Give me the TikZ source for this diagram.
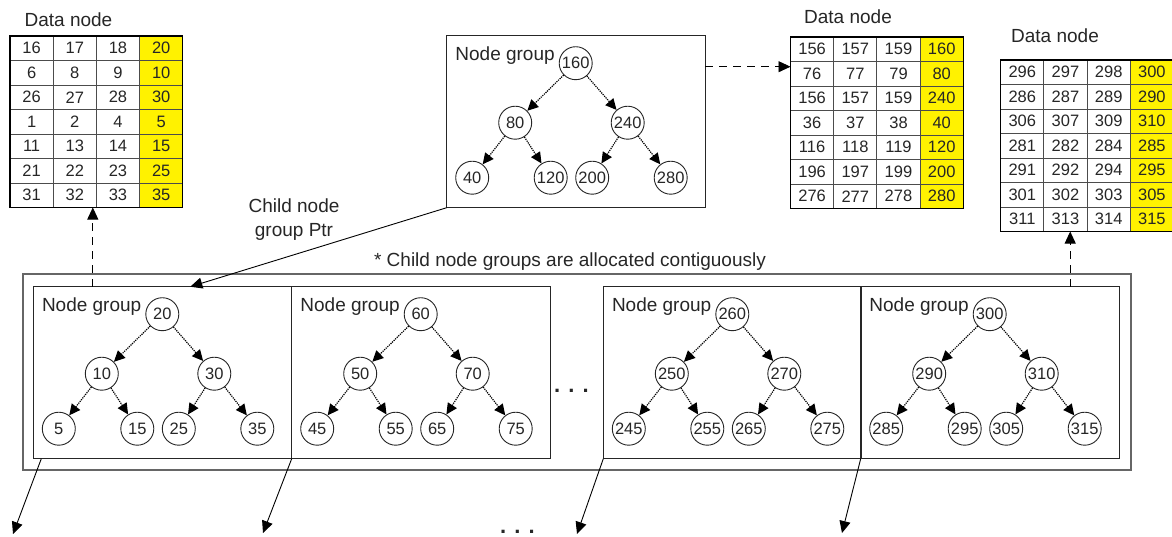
\documentclass[tikz,border=0pt]{standalone}
\usepackage{fontspec}
\setmainfont{Liberation Sans}
\usetikzlibrary{arrows.meta,calc}

\tikzset{
  lbl/.style={font=\fontsize{19}{24}\selectfont, text=black!85, inner sep=0pt},
  num/.style={font=\fontsize{16.5}{18}\selectfont, text=black!85},
  cell/.style={num, draw=black!70, line width=0.9pt, minimum width=43.2pt,
    minimum height=24.5pt, inner sep=0pt, outer sep=0pt},
  key/.style={cell, fill=yellow},
  tnode/.style={num, circle, draw=black!85, line width=0.9pt, minimum size=33pt,
    inner sep=0pt, fill=white},
  groupbox/.style={draw=black!85, line width=1pt, minimum width=258.4pt,
    minimum height=172pt, inner sep=0pt, outer sep=0pt},
  outerbox/.style={draw=black!60, line width=1.8pt, inner sep=0pt, outer sep=0pt,
    minimum width=1108pt, minimum height=196pt},
  treeedge/.style={densely dotted, line width=1.2pt, -{Triangle[length=11pt,width=10.5pt]}},
  ptr/.style={line width=0.9pt, -{Triangle[length=12pt,width=11pt]}},
  dashptr/.style={ptr, dash pattern=on 8pt off 6pt},
  dots/.style={font=\bfseries\fontsize{22}{24}\selectfont, text=black!85, inner sep=0pt, anchor=base},
}

% data node table: name, left x, top y, rows (four keys each, last one highlighted)
\newcommand\datatable[4]{%
  \foreach \a/\b/\c/\d [count=\r] in {#4} {
    \node[cell] (#1-\r-1) at ({#2+21.6},{#3+(\r-0.5)*24.5}) {\a};
    \node[cell] (#1-\r-2) at ({#2+64.8},{#3+(\r-0.5)*24.5}) {\b};
    \node[cell] (#1-\r-3) at ({#2+108},{#3+(\r-0.5)*24.5}) {\c};
    \node[key]  (#1-\r-4) at ({#2+151.2},{#3+(\r-0.5)*24.5}) {\d};
  }
  \draw[line width=1.2pt] (#1-1-1.north west) rectangle (#1-7-4.south east);
}

% node group: name, top-left corner, seven keys of the binary tree (level order)
\newcommand\nodegroup[9]{%
  \node[groupbox, anchor=north west] (#1) at (#2) {};
  \node[lbl, anchor=west] (#1-title) at ([shift={(8.5,20)}]#1.north west) {Node group};
  \node[tnode] (#1-a) at ([shift={(129,27.5)}]#1.north west) {#3};
  \node[tnode] (#1-b) at ([shift={(68.5,87)}]#1.north west) {#4};
  \node[tnode] (#1-c) at ([shift={(181,87)}]#1.north west) {#5};
  \node[tnode] (#1-d) at ([shift={(25.5,142)}]#1.north west) {#6};
  \node[tnode] (#1-e) at ([shift={(104,142)}]#1.north west) {#7};
  \node[tnode] (#1-f) at ([shift={(145.5,142)}]#1.north west) {#8};
  \node[tnode] (#1-g) at ([shift={(224,142)}]#1.north west) {#9};
  \draw[treeedge] (#1-a) -- (#1-b);
  \draw[treeedge] (#1-a) -- (#1-c);
  \draw[treeedge] (#1-b) -- (#1-d);
  \draw[treeedge] (#1-b) -- (#1-e);
  \draw[treeedge] (#1-c) -- (#1-f);
  \draw[treeedge] (#1-c) -- (#1-g);
}

\begin{document}
\begin{tikzpicture}[x=1pt, y=-1pt]
\useasboundingbox (0,0) rectangle (1172,536);

% data nodes
\node[lbl] (DL-title) at (68.5,20) {Data node};
\datatable{DL}{10}{36}{16/17/18/20, 6/8/9/10, 26/27/28/30, 1/2/4/5, 11/13/14/15, 21/22/23/25, 31/32/33/35}

\node[lbl] (DM-title) at (848,16.5) {Data node};
\datatable{DM}{790.5}{37}{156/157/159/160, 76/77/79/80, 156/157/159/240, 36/37/38/40, 116/118/119/120, 196/197/199/200, 276/277/278/280}

\node[lbl] (DR-title) at (1055,36) {Data node};
\datatable{DR}{1000.7}{60}{296/297/298/300, 286/287/289/290, 306/307/309/310, 281/282/284/285, 291/292/294/295, 301/302/303/305, 311/313/314/315}

% parent node group
\nodegroup{G0}{446.7,35.7}{160}{80}{240}{40}{120}{200}{280}

% contiguous child node groups
\node[outerbox, anchor=north west] (all) at (22.7,274) {};
\node[lbl] (note) at (570,261.5) {* Child node groups are allocated contiguously};
\nodegroup{G1}{33.3,286.7}{20}{10}{30}{5}{15}{25}{35}
\nodegroup{G2}{291.7,286.7}{60}{50}{70}{45}{55}{65}{75}
\nodegroup{G3}{603.3,286.7}{260}{250}{270}{245}{255}{265}{275}
\nodegroup{G4}{860.7,286.7}{300}{290}{310}{285}{295}{305}{315}

\node[dots] (gapmid) at (571.5,392) {. . .};
\node[dots] (gapbot) at (517.5,533) {. . .};

% pointer from the parent group to its children
\draw[ptr] (G0.south west) -- ([xshift=157pt]G1.north west);
\node[lbl, align=center] (ptrlabel) at (294,220) {Child node\\group Ptr};

% group to data node links
\coordinate (g0out) at ([yshift=-31pt]G0.north east);
\draw[dashptr] (g0out) -- (g0out -| DM-1-1.west);
\coordinate (u1) at ([xshift=59.5pt]G1.north west);
\draw[dashptr] (u1) -- (u1 |- DL-7-1.south);
\coordinate (u2) at ([xshift=209.5pt]G4.north west);
\draw[dashptr] (u2) -- (u2 |- DR-7-1.south);

% pointers to the next level of node groups
\coordinate (d1) at (13,534);
\coordinate (d2) at (263,533);
\coordinate (d3) at (577,534);
\coordinate (d4) at (842,533);
\draw[ptr] ([xshift=8pt]G1.south west) -- (d1);
\draw[ptr] (G2.south west) -- (d2);
\draw[ptr] (G3.south west) -- (d3);
\draw[ptr] (G4.south west) -- (d4);
\end{tikzpicture}
\end{document}
